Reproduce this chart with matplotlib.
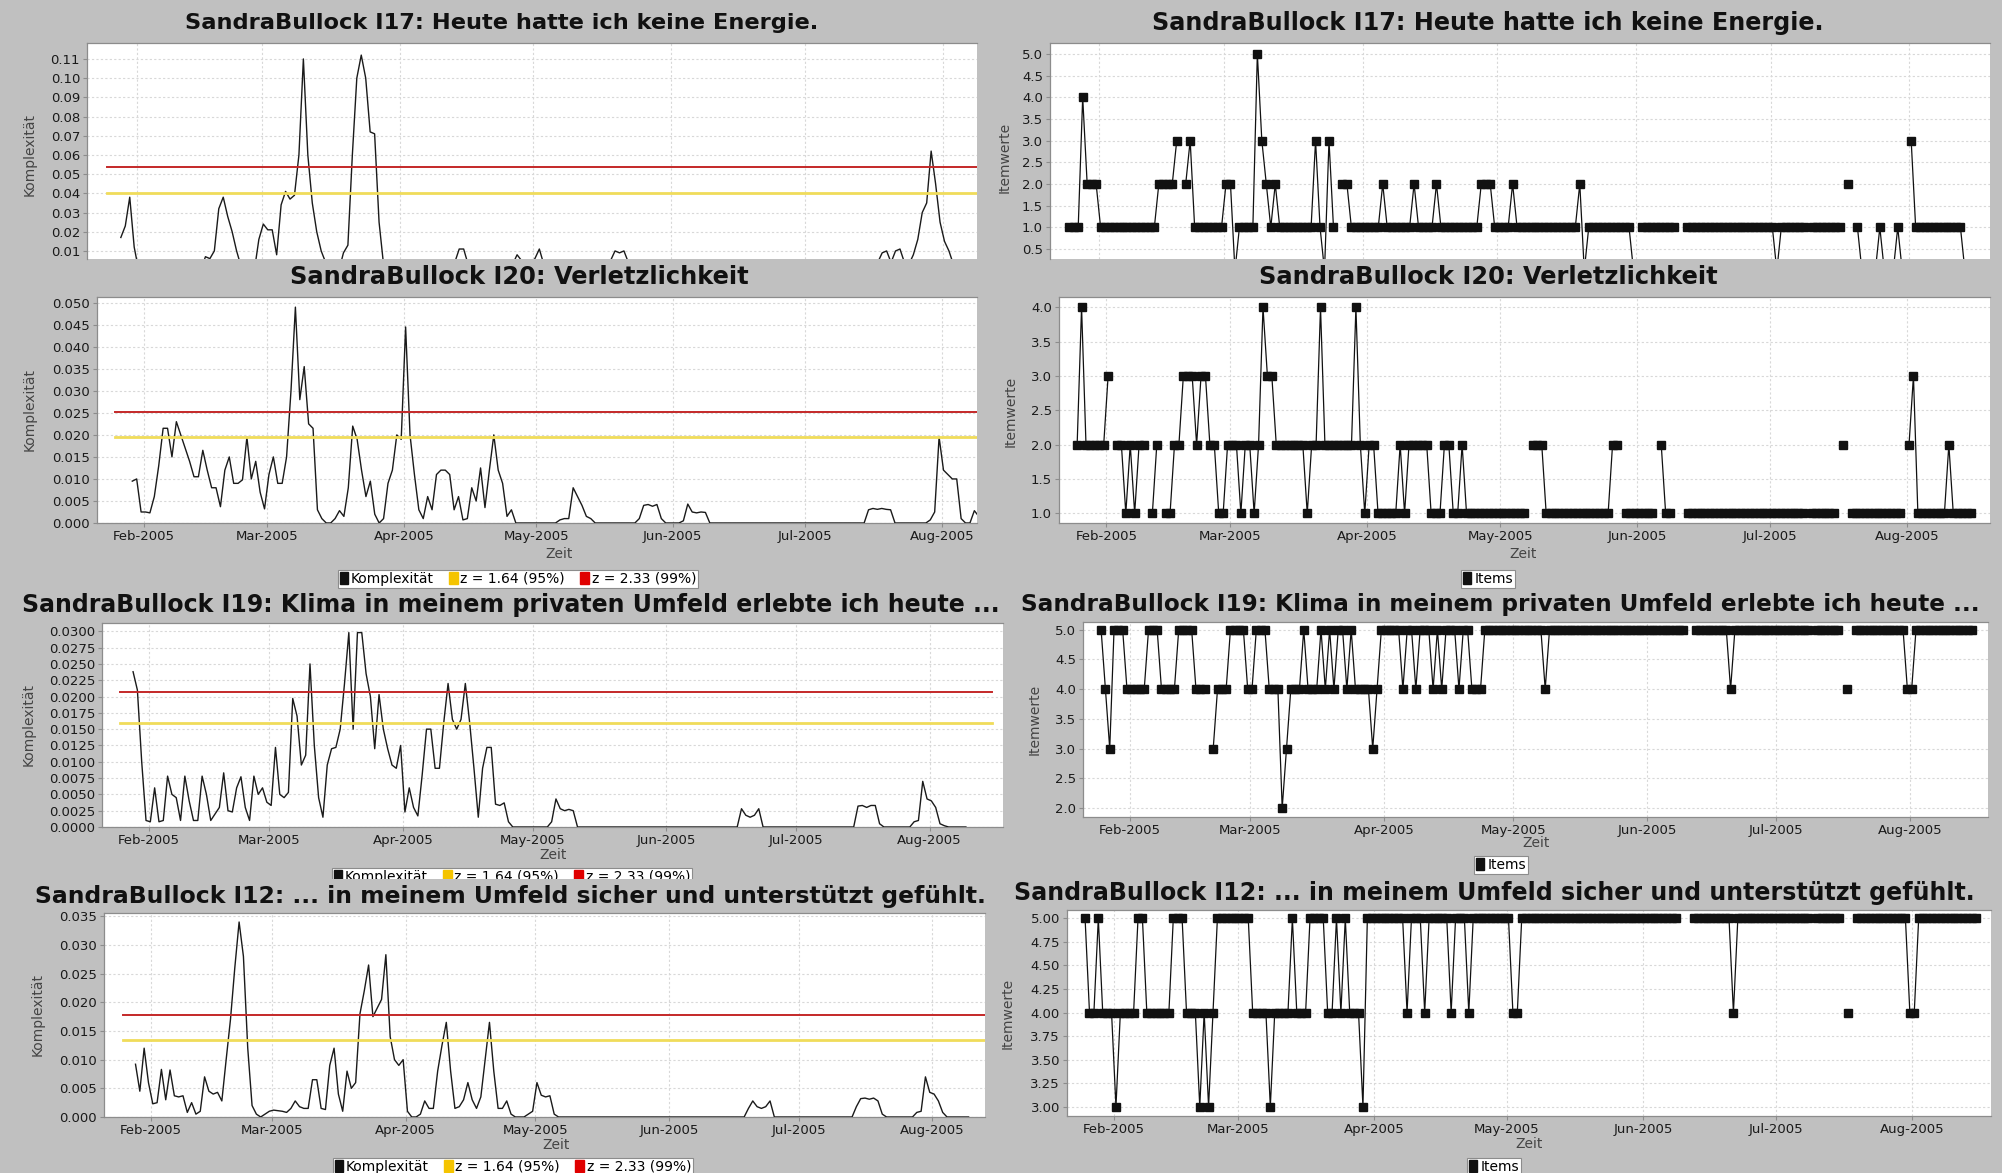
import numpy as np
import matplotlib
matplotlib.use("Agg")
import matplotlib.pyplot as plt
from matplotlib.patches import Patch, Rectangle
from matplotlib.ticker import FixedLocator, FormatStrFormatter

W, H = 2002, 1173
BG = "#c0c0c0"
DAY0 = np.datetime64("2005-01-25")
OFFSET = 0.4

month_dates = ["2005-02-01", "2005-03-01", "2005-04-01", "2005-05-01",
               "2005-06-01", "2005-07-01", "2005-08-01"]
month_labels = ["Feb-2005", "Mar-2005", "Apr-2005", "May-2005",
                "Jun-2005", "Jul-2005", "Aug-2005"]
month_days = [int((np.datetime64(d) - DAY0).astype(int)) for d in month_dates]

# Itemwerte, one character per day from 25 Jan 2005, "." = kein Wert
i17_items = ("1114222111 1111111111 22223.2311 1111122011 1153212111 1111131031 "
             ".221111111 2111111211 1121111111 1122211112 1111111111 1111201111 "
             "1111110.11 111111..11 1111111111 1111111101 11111.1111 111.2.1000 "
             "0100010.31 1111111111 0")
i20_items = ("24222223.2 212122.12. 1122333233 2211222122 1243322222 2212242222 "
             "2224212211 1112122222 1112211211 1111111111 11.2221111 1111111111 "
             "122.111111 1.211...11 1111111111 1111111111 11111.1111 11.2.11111 "
             "1111111.23 1111111211 111")
i19_items = ("5435554444 4555444455 55444.3444 5555445554 4423444544 4545455454 "
             "4443455555 4554555454 5554554445 5555555555 5554555555 5555555555 "
             "5555555555 555555..55 5555554555 5555555555 55555.5555 55.4.55555 "
             "5555555445 5555555555 555")
i12_items = ("5445444344 4455444444 5554443434 5555555544 4434444544 4555544545 "
             "4443555555 5554555455 5554555455 5555555445 5555555555 5555555555 "
             "5555555555 55555...55 5555555455 5555555555 55555.5555 55.4.55555 "
             "5555555445 5555555555 555")

# Komplexitaet, first value belongs to day 3 / 4 after 25 Jan 2005
i17_start = 3
i17_cx = ([0.017, 0.023, 0.038, 0.012] + [0.0] * 15 +
          [0.007, 0.006, 0.010, 0.032, 0.038, 0.028, 0.020, 0.010, 0.002, 0.0, 0.0, 0.0,
           0.016, 0.024, 0.021, 0.021, 0.008, 0.034, 0.041, 0.037, 0.039, 0.060,
           0.110, 0.060, 0.035, 0.020, 0.010, 0.004, 0.0, 0.0, 0.0,
           0.009, 0.013, 0.060, 0.100, 0.112, 0.100, 0.072, 0.071, 0.025, 0.003] +
          [0.0] * 15 + [0.004, 0.011, 0.011, 0.003] + [0.0] * 9 +
          [0.003, 0.008, 0.005, 0.002, 0.003, 0.006, 0.011, 0.003] + [0.0] * 14 +
          [0.005, 0.010, 0.009, 0.010, 0.004] + [0.0] * 55 +
          [0.004, 0.009, 0.010, 0.004, 0.010, 0.011, 0.004, 0.003, 0.008, 0.016,
           0.030, 0.035, 0.062, 0.045, 0.025, 0.015, 0.010, 0.003] + [0.0] * 6)

i20_start = 4
i20_cx = ([0.0095, 0.010, 0.0025, 0.0025, 0.0023, 0.006, 0.013, 0.0215, 0.0215, 0.015,
           0.023, 0.020, 0.017, 0.014, 0.0105, 0.0105, 0.0165, 0.012, 0.008, 0.008,
           0.0037, 0.012, 0.015, 0.009, 0.009, 0.0098, 0.0195, 0.010, 0.014, 0.007,
           0.0032, 0.011, 0.015, 0.009, 0.009, 0.015, 0.030, 0.049, 0.028, 0.0355,
           0.0225, 0.0215, 0.003, 0.001, 0.0, 0.0, 0.001, 0.0028, 0.0015, 0.008,
           0.022, 0.019, 0.012, 0.006, 0.0095, 0.002, 0.0, 0.001, 0.009, 0.012,
           0.020, 0.019, 0.0445, 0.020, 0.011, 0.003, 0.001, 0.006, 0.003, 0.011,
           0.012, 0.012, 0.011, 0.003, 0.006, 0.0007, 0.001, 0.008, 0.005, 0.0125,
           0.0035, 0.012, 0.020, 0.012, 0.009, 0.0015, 0.003, 0.0] + [0.0] * 8 +
          [0.0, 0.0007, 0.001, 0.001, 0.008, 0.006, 0.004, 0.0015, 0.001] + [0.0] * 10 +
          [0.001, 0.004, 0.0042, 0.0038, 0.0042, 0.001] + [0.0] * 4 +
          [0.0005, 0.0043, 0.0025, 0.0023, 0.0025, 0.0024] + [0.0] * 36 +
          [0.003, 0.0033, 0.0031, 0.0033, 0.0031, 0.003] + [0.0] * 8 +
          [0.0007, 0.0025, 0.0195, 0.012, 0.011, 0.010, 0.010, 0.001, 0.0, 0.0,
           0.0028, 0.0015])

i19_start = 3
i19_cx = ([0.0238, 0.021, 0.010, 0.001, 0.0008, 0.006, 0.0008, 0.001, 0.0078, 0.005,
           0.0045, 0.001, 0.0078, 0.004, 0.001, 0.001, 0.0078, 0.005, 0.001, 0.002,
           0.003, 0.0083, 0.0025, 0.0023, 0.006, 0.0077, 0.003, 0.001, 0.0078, 0.005,
           0.006, 0.0038, 0.0033, 0.0122, 0.005, 0.0045, 0.0053, 0.0197, 0.017, 0.0095,
           0.011, 0.025, 0.0125, 0.0045, 0.0015, 0.0095, 0.012, 0.0122, 0.015, 0.022,
           0.0298, 0.015, 0.0298, 0.0298, 0.0235, 0.020, 0.012, 0.0203, 0.015, 0.012,
           0.0095, 0.009, 0.0125, 0.0023, 0.006, 0.003, 0.0017, 0.008, 0.015, 0.015,
           0.009, 0.009, 0.016, 0.022, 0.0165, 0.015, 0.0165, 0.022, 0.016, 0.009,
           0.0015, 0.009, 0.0122, 0.0122, 0.0035, 0.0033, 0.0037, 0.0008] + [0.0] * 9 +
          [0.0008, 0.0043, 0.0028, 0.0025, 0.0027, 0.0025] + [0.0] * 38 +
          [0.0028, 0.0018, 0.0015, 0.0018, 0.0028] + [0.0] * 22 +
          [0.0032, 0.0033, 0.003, 0.0033, 0.0033, 0.0005] + [0.0] * 7 +
          [0.0008, 0.001, 0.007, 0.0043, 0.004, 0.003, 0.0005, 0.0002] + [0.0] * 5)

i12_start = 3
i12_cx = ([0.0092, 0.0045, 0.012, 0.006, 0.0023, 0.0025, 0.0083, 0.003, 0.0082, 0.0037,
           0.0035, 0.0037, 0.0008, 0.0025, 0.0005, 0.001, 0.007, 0.0045, 0.004, 0.0043,
           0.0028, 0.010, 0.017, 0.026, 0.034, 0.028, 0.012, 0.002, 0.0005, 0.0,
           0.0005, 0.001, 0.0012, 0.0011, 0.001, 0.0008, 0.0015, 0.0028, 0.0018, 0.0015,
           0.0015, 0.0065, 0.0065, 0.0015, 0.0013, 0.009, 0.012, 0.004, 0.001, 0.008,
           0.005, 0.006, 0.018, 0.022, 0.0265, 0.0175, 0.019, 0.0205, 0.0283, 0.014,
           0.010, 0.009, 0.010, 0.001, 0.0, 0.0, 0.0005, 0.0028, 0.0015, 0.0015,
           0.008, 0.0125, 0.0165, 0.008, 0.0015, 0.0018, 0.003, 0.006, 0.003, 0.0015,
           0.0035, 0.010, 0.0165, 0.008, 0.0015, 0.0015, 0.0028, 0.0005, 0.0, 0.0,
           0.0, 0.0005, 0.001, 0.006, 0.0038, 0.0035, 0.0037, 0.0005] + [0.0] * 44 +
          [0.0015, 0.0028, 0.0018, 0.0015, 0.0018, 0.0028] + [0.0] * 19 +
          [0.0018, 0.0032, 0.0033, 0.0031, 0.0033, 0.0028, 0.0005] + [0.0] * 7 +
          [0.0008, 0.001, 0.007, 0.0043, 0.004, 0.0028, 0.0008] + [0.0] * 6)

# z-Schwellen (95 % gelb, 99 % rot)
i17_z = (0.0402, 0.0538)
i20_z = (0.0196, 0.0253)
i19_z = (0.0159, 0.0207)
i12_z = (0.0134, 0.0177)

titles = ["SandraBullock I17: Heute hatte ich keine Energie.",
          "SandraBullock I20: Verletzlichkeit",
          "SandraBullock I19: Klima in meinem privaten Umfeld erlebte ich heute ...",
          "SandraBullock I12: ... in meinem Umfeld sicher und unterstützt gefühlt."]


def parse_items(s):
    s = s.replace(" ", "")
    return np.array([np.nan if c == "." else float(c) for c in s])


def px_axes(fig, l, t, r, b):
    return fig.add_axes([l / W, 1 - b / H, (r - l) / W, (b - t) / H])


def fx(x):
    return x / W


def fy(y):
    return 1 - y / H


def style(ax, xlim, ylim, yticks, fmt, cut=False):
    ax.set_facecolor("white")
    ax.set_xlim(*xlim)
    ax.set_ylim(*ylim)
    ax.xaxis.set_major_locator(FixedLocator(month_days))
    ax.set_xticklabels(month_labels)
    ax.yaxis.set_major_locator(FixedLocator(yticks))
    ax.yaxis.set_major_formatter(FormatStrFormatter(fmt))
    ax.grid(True, color="#d8d8d8", ls=(0, (2, 2)), lw=0.8)
    ax.set_axisbelow(True)
    for sp in ax.spines.values():
        sp.set_color("#8c8c8c")
        sp.set_linewidth(0.9)
    ax.spines["right"].set_visible(False)
    ax.tick_params(colors="#8c8c8c", labelcolor="#1a1a1a", labelsize=9.5,
                   length=3, width=0.8, pad=2)
    if cut:
        ax.spines["bottom"].set_visible(False)
        ax.tick_params(axis="x", bottom=False, labelbottom=False)


def complexity(ax, start, vals, z):
    x = np.arange(start, start + len(vals)) + OFFSET
    ax.plot(x, vals, color="#1a1a1a", lw=1.0, zorder=3)
    ax.plot([OFFSET, 202 + OFFSET], [z[0], z[0]], color="#f0dc5a", lw=2.0, zorder=4)
    ax.plot([OFFSET, 202 + OFFSET], [z[1], z[1]], color="#c42828", lw=1.4, zorder=4)


def items(ax, s):
    v = parse_items(s)
    x = np.arange(len(v)) + OFFSET
    ax.plot(x, v, color="#111111", lw=0.9, marker="s", ms=5.4, mfc="#111111",
            mec="#111111", zorder=3)


def legend(fig, cx, cy, kind):
    if kind == "cx":
        handles = [Patch(color="#111111", label="Komplexität"),
                   Patch(color="#f5c400", label="z = 1.64 (95%)"),
                   Patch(color="#e00000", label="z = 2.33 (99%)")]
    else:
        handles = [Patch(color="#111111", label="Items")]
    lg = fig.legend(handles=handles, loc="center", bbox_to_anchor=(fx(cx), fy(cy)),
                    ncol=len(handles), fontsize=10, frameon=True, fancybox=False,
                    edgecolor="#8c8c8c", framealpha=1, borderpad=0.15,
                    handlelength=0.6, handleheight=0.9, handletextpad=0.2,
                    columnspacing=1.1, borderaxespad=0)
    lg.get_frame().set_linewidth(0.8)
    return lg


def title(fig, x, y, text, size):
    fig.text(fx(x), fy(y), text, fontsize=size, fontweight="bold", color="#111111",
             ha="center", va="center", zorder=12)


fig = plt.figure(figsize=(W / 100, H / 100), dpi=100, facecolor=BG)

ylab_kw = dict(fontsize=10, color="#444444", rotation=90, ha="center", va="center",
               zorder=12)
xlab_kw = dict(fontsize=10, color="#444444", ha="center", va="center", zorder=12)

# Reihe 1: I17 (unten abgeschnitten)
ax = px_axes(fig, 87, 43, 977, 259)
style(ax, (-4.2, 195.7), (0.0058, 0.1183), np.arange(0.01, 0.115, 0.01), "%.2f", cut=True)
complexity(ax, i17_start, i17_cx, i17_z)
title(fig, 502, 23, titles[0], 16.2)
fig.text(fx(30), fy(155), "Komplexität", **ylab_kw)

ax = px_axes(fig, 1050, 43, 1990, 259)
style(ax, (-3.9, 206.0), (0.27, 5.25), np.arange(0.5, 5.01, 0.5), "%.1f", cut=True)
items(ax, i17_items)
title(fig, 1488, 23, titles[0], 17.2)
fig.text(fx(1005), fy(157), "Itemwerte", **ylab_kw)

# Reihe 2: I20
ax = px_axes(fig, 97, 297, 977, 523)
style(ax, (-3.6, 196.0), (0.0, 0.0513), np.arange(0.0, 0.0501, 0.005), "%.3f")
complexity(ax, i20_start, i20_cx, i20_z)
title(fig, 519, 277, titles[1], 17.4)
fig.text(fx(30), fy(410), "Komplexität", **ylab_kw)
fig.text(fx(559), fy(554), "Zeit", **xlab_kw)
legend(fig, 518, 579, "cx")

ax = px_axes(fig, 1059, 297, 1990, 523)
style(ax, (-3.7, 206.7), (0.86, 4.15), np.arange(1.0, 4.01, 0.5), "%.1f")
items(ax, i20_items)
title(fig, 1488, 277, titles[1], 17.4)
fig.text(fx(1011), fy(411), "Itemwerte", **ylab_kw)
fig.text(fx(1523), fy(554), "Zeit", **xlab_kw)
legend(fig, 1488, 579, "items")

# Reihe 3: I19
ax = px_axes(fig, 102, 623, 1003, 827)
style(ax, (-3.8, 205.0), (0.0, 0.03127), np.arange(0.0, 0.03001, 0.0025), "%.4f")
complexity(ax, i19_start, i19_cx, i19_z)
title(fig, 511, 605, titles[2], 17.0)
fig.text(fx(29), fy(725), "Komplexität", **ylab_kw)
fig.text(fx(553), fy(855), "Zeit", **xlab_kw)
legend(fig, 512, 877, "cx")

ax = px_axes(fig, 1083, 622, 1988, 817)
style(ax, (-3.8, 206.1), (1.85, 5.13), np.arange(2.0, 5.01, 0.5), "%.1f")
items(ax, i19_items)
title(fig, 1500, 604, titles[2], 16.7)
fig.text(fx(1035), fy(719), "Itemwerte", **ylab_kw)
fig.text(fx(1536), fy(843), "Zeit", **xlab_kw)
legend(fig, 1501, 865, "items")

# Reihe 4 deckt die Legende von Reihe 3 teilweise ab
fig.add_artist(Rectangle((0, fy(900)), fx(1010), (900 - 879) / H,
                         transform=fig.transFigure, facecolor=BG, edgecolor="none",
                         zorder=10))

ax = px_axes(fig, 104, 913, 985, 1117)
style(ax, (-3.9, 200.2), (0.0, 0.03557), np.arange(0.0, 0.0351, 0.005), "%.3f")
complexity(ax, i12_start, i12_cx, i12_z)
title(fig, 510, 896, titles[3], 16.9)
fig.text(fx(38), fy(1015), "Komplexität", **ylab_kw)
fig.text(fx(556), fy(1145), "Zeit", **xlab_kw)
legend(fig, 513, 1167, "cx")

ax = px_axes(fig, 1067, 910, 1991, 1116)
style(ax, (-3.7, 205.8), (2.90, 5.09), np.arange(3.0, 5.01, 0.25), "%.2f")
items(ax, i12_items)
title(fig, 1494, 893, titles[3], 17.1)
fig.text(fx(1008), fy(1013), "Itemwerte", **ylab_kw)
fig.text(fx(1529), fy(1144), "Zeit", **xlab_kw)
legend(fig, 1494, 1167, "items")

fig.savefig("out.png", dpi=100, facecolor=BG)
